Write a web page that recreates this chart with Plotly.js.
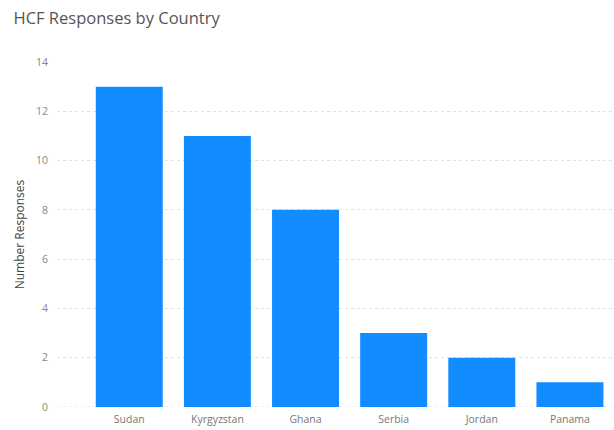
<!DOCTYPE html>
<html>
<head>
<meta charset="utf-8">
<script src="https://cdn.plot.ly/plotly-3.0.1.min.js"></script>
<style>html,body{margin:0;padding:0;background:#fff;}#chart{width:614px;height:430px;}</style>
</head>
<body>
<div id="chart"></div>
<script>
const countries = ["Sudan", "Kyrgyzstan", "Ghana", "Serbia", "Jordan", "Panama"];
const responses = [13, 11, 8, 3, 2, 1];
const yTicks = [0, 2, 4, 6, 8, 10, 12, 14];

const trace = {
  type: "bar",
  x: countries,
  y: responses,
  marker: {color: "#118DFF"},
  hoverinfo: "x+y"
};

const layout = {
  width: 614,
  height: 430,
  margin: {l: 57, r: 0, t: 62, b: 23},
  paper_bgcolor: "#ffffff",
  plot_bgcolor: "#ffffff",
  font: {family: "Open Sans, sans-serif", color: "#666"},
  title: {
    text: "HCF Responses by Country",
    font: {family: "Open Sans, sans-serif", size: 16.5, color: "#555"},
    x: 0.022, xanchor: "left", y: 0.958, yanchor: "middle"
  },
  bargap: 0.24,
  xaxis: {
    range: [-0.82, 5.5],
    showgrid: false,
    zeroline: false,
    showline: false,
    ticks: "",
    tickfont: {size: 10.5, color: "#777"},
    ticklabelstandoff: 4
  },
  yaxis: {
    range: [0, 14],
    tickvals: yTicks,
    ticktext: yTicks.map(String),
    showgrid: true,
    gridcolor: "#e2e2e2",
    griddash: "dot",
    gridwidth: 1,
    zeroline: false,
    showline: false,
    ticks: "",
    tickfont: {size: 10.5, color: "#888"},
    ticklabelstandoff: 8,
    title: {text: "Number Responses", font: {size: 12, color: "#444"}, standoff: 8}
  },
  shapes: [{
    type: "line", xref: "paper", yref: "y", x0: 0, x1: 1, y0: 0, y1: 0,
    line: {color: "#e2e2e2", width: 1, dash: "dot"}, layer: "below"
  }],
  showlegend: false
};

Plotly.newPlot("chart", [trace], layout, {displayModeBar: false, staticPlot: true});
</script>
</body>
</html>
